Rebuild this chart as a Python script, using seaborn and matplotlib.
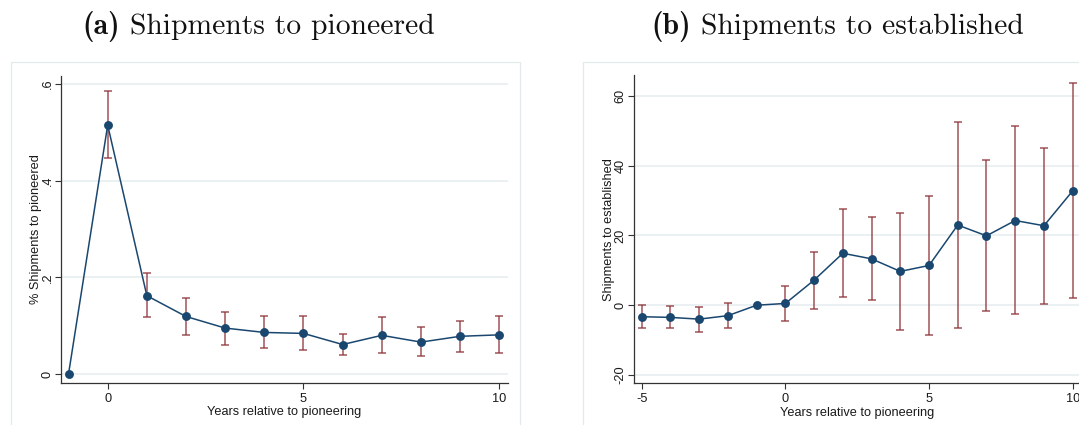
import numpy as np
import pandas as pd
import matplotlib
matplotlib.use("Agg")
import matplotlib.pyplot as plt
from matplotlib.patches import Rectangle
import seaborn as sns

# Panel (a): share of shipments to pioneered destinations
pion_years = [-1, 0, 1, 2, 3, 4, 5, 6, 7, 8, 9, 10]
pion_coef = [0.0, 0.515, 0.162, 0.119, 0.095, 0.086, 0.084, 0.061, 0.080, 0.066, 0.078, 0.081]
pion_lo = [np.nan, 0.446, 0.118, 0.080, 0.061, 0.053, 0.049, 0.039, 0.043, 0.037, 0.046, 0.043]
pion_hi = [np.nan, 0.585, 0.208, 0.158, 0.129, 0.119, 0.119, 0.082, 0.117, 0.097, 0.110, 0.120]

# Panel (b): shipments to established destinations
est_years = [-5, -4, -3, -2, -1, 0, 1, 2, 3, 4, 5, 6, 7, 8, 9, 10]
est_coef = [-3.3, -3.5, -4.0, -3.0, 0.0, 0.5, 7.2, 14.9, 13.3, 9.7, 11.4, 23.0, 19.9, 24.3, 22.8, 32.8]
est_lo = [-6.6, -6.6, -7.8, -6.45, np.nan, -4.5, -1.0, 2.3, 1.35, -7.2, -8.5, -6.6, -1.6, -2.55, 0.3, 1.95]
est_hi = [0.12, -0.25, -0.38, 0.5, np.nan, 5.65, 15.4, 27.55, 25.35, 26.5, 31.4, 52.5, 41.6, 51.3, 45.2, 63.7]

pion_yticks = [0, 0.2, 0.4, 0.6]
pion_yticklabels = ["0", ".2", ".4", ".6"]
pion_xticks = [0, 5, 10]
est_yticks = [-20, 0, 20, 40, 60]
est_yticklabels = ["-20", "0", "20", "40", "60"]
est_xticks = [-5, 0, 5, 10]

panel_tags = ["(a)", "(b)"]
panel_names = ["Shipments to pioneered", "Shipments to established"]
ylabels = ["% Shipments to pioneered", "Shipments to established"]
xlabel = "Years relative to pioneering"

NAVY = "#1a476f"
MAROON = "#90353b"
GRID = "#e9f0f2"
FRAME = "#e2eaec"
FS = 9.2

sns.set_style("white")
plt.rcParams["font.family"] = ["Liberation Sans", "DejaVu Sans"]

W, H = 1079, 425
fig = plt.figure(figsize=(W / 100, H / 100), dpi=100)


def px_axes(left, right, top, bottom):
    return fig.add_axes([left / W, 1 - bottom / H, (right - left) / W, (bottom - top) / H])


def draw_panel(ax, years, coef, lo, hi):
    df = pd.DataFrame({"year": years, "coef": coef, "lo": lo, "hi": hi})
    ci = df.dropna()
    ax.errorbar(ci["year"], ci["coef"],
                yerr=[ci["coef"] - ci["lo"], ci["hi"] - ci["coef"]],
                fmt="none", ecolor=MAROON, alpha=0.85, elinewidth=1.1,
                capsize=2.6, capthick=1.1, zorder=2)
    sns.lineplot(data=df, x="year", y="coef", ax=ax, color=NAVY, lw=1.1,
                 marker="o", markersize=6.4, markeredgewidth=0,
                 errorbar=None, zorder=3)


def style_axes(ax, xlim, ylim, xticks, yticks, yticklabels, ylabel):
    ax.set_xlim(*xlim)
    ax.set_ylim(*ylim)
    ax.set_xticks(xticks)
    ax.set_xticklabels([str(t) for t in xticks])
    ax.set_yticks(yticks)
    ax.set_yticklabels(yticklabels, rotation=90, va="center")
    for t in yticks:
        ax.axhline(t, color=GRID, lw=1.3, zorder=0)
    sns.despine(ax=ax)
    for side in ("left", "bottom"):
        ax.spines[side].set_color("#333333")
        ax.spines[side].set_linewidth(0.9)
    ax.tick_params(axis="both", direction="out", length=4.2, width=0.8,
                   color="#333333", labelsize=FS, labelcolor="#1a1a1a",
                   left=True, bottom=True, pad=3.0)
    ax.tick_params(axis="y", pad=0.8)
    ax.set_xlabel(xlabel, fontsize=FS, color="#1a1a1a", labelpad=1.0)
    ax.set_ylabel(ylabel, fontsize=FS, color="#1a1a1a", labelpad=0.0)
    ax.set_facecolor("white")


def panel_title(center_px, baseline_px, tag, name, size=21.3):
    renderer = fig.canvas.get_renderer()
    t1 = fig.text(0, 1 - baseline_px / H, tag, fontfamily="cmb10", fontsize=size,
                  va="baseline", ha="left", color="#111111")
    t2 = fig.text(0, 1 - baseline_px / H, name, fontfamily="cmr10", fontsize=size,
                  va="baseline", ha="left", color="#111111")
    w1 = t1.get_window_extent(renderer).width
    w2 = t2.get_window_extent(renderer).width
    gap = size * 100 / 72 * 0.33
    x0 = center_px - (w1 + gap + w2) / 2
    t1.set_x(x0 / W)
    t2.set_x((x0 + w1 + gap) / W)


# panel frames
fig.patches.append(Rectangle((10.7 / W, -0.1), (520.3 - 10.7) / W, 1 - 61.7 / H + 0.1,
                             transform=fig.transFigure, fill=False, ec=FRAME, lw=0.9))
fig.patches.append(Rectangle((583.3 / W, -0.1), 0.6, 1 - 61.7 / H + 0.1,
                             transform=fig.transFigure, fill=False, ec=FRAME, lw=0.9))

ax1 = px_axes(60.7, 507.7, 75.7, 382.7)
draw_panel(ax1, pion_years, pion_coef, pion_lo, pion_hi)
style_axes(ax1, (-1.2, 10.215), (-0.018, 0.6172), pion_xticks,
           pion_yticks, pion_yticklabels, ylabels[0])

ax2 = px_axes(633.7, 1080.7, 75.0, 383.3)
draw_panel(ax2, est_years, est_coef, est_lo, est_hi)
style_axes(ax2, (-5.28, 10.28), (-22.41, 66.05), est_xticks,
           est_yticks, est_yticklabels, ylabels[1])

panel_title(258.6, 34.3, panel_tags[0], panel_names[0])
panel_title(837.4, 34.3, panel_tags[1], panel_names[1])

fig.savefig("out.png", dpi=100, facecolor="white")
